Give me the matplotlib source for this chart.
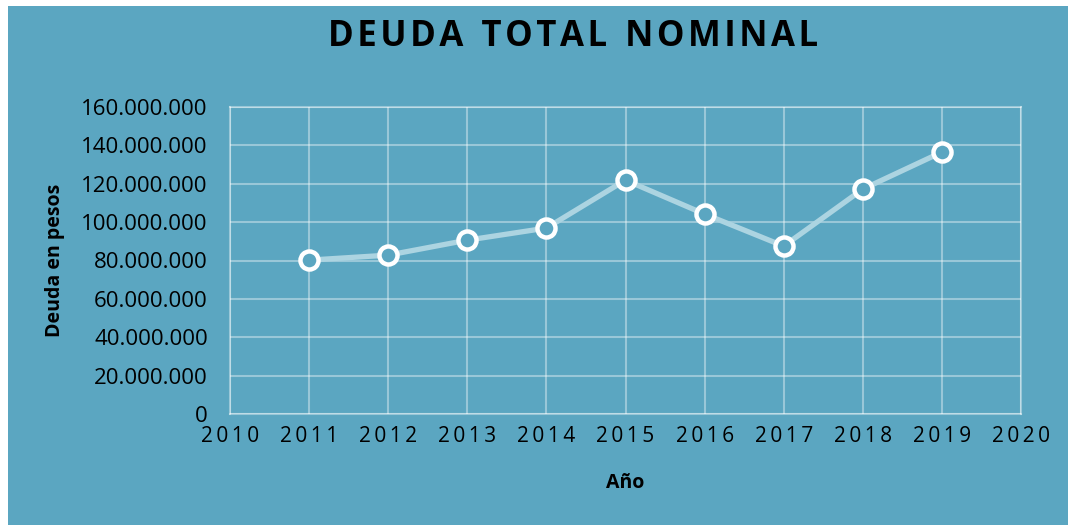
import matplotlib.pyplot as plt
import matplotlib.ticker as mticker
from matplotlib.patches import Rectangle

# datos
anios = [2011, 2012, 2013, 2014, 2015, 2016, 2017, 2018, 2019]
deuda = [80200000, 82800000, 90600000, 96900000, 121900000,
         104200000, 87500000, 117200000, 136500000]
x_ticks = list(range(2010, 2021))
y_ticks = list(range(0, 160000001, 20000000))
titulo = 'DEUDA TOTAL NOMINAL'

fondo = '#5ba6c1'
plt.rcParams['font.family'] = ['Open Sans', 'DejaVu Sans']

fig = plt.figure(figsize=(10.68, 5.25), dpi=100, facecolor='white')
fig.patches.append(Rectangle((8 / 1068, 0), 1, 1 - 6 / 525, transform=fig.transFigure,
                             facecolor=fondo, edgecolor='none', zorder=-1))

ax = fig.add_axes([230 / 1068, 111 / 525, 791 / 1068, 307 / 525])
ax.set_facecolor(fondo)

ax.plot(anios, deuda, color='#acd4e1', lw=3.8, marker='o', markersize=13,
        markerfacecolor=fondo, markeredgecolor='white', markeredgewidth=3.2, zorder=3)

ax.set_xlim(2010, 2020)
ax.set_ylim(0, 160000000)
ax.set_xticks(x_ticks)
ax.set_yticks(y_ticks)
ax.set_xticklabels(['\u2009'.join(str(t)) for t in x_ticks], fontsize=15)
ax.yaxis.set_major_formatter(mticker.FuncFormatter(lambda v, p: f'{int(v):,}'.replace(',', '.')))
ax.tick_params(axis='y', labelsize=16, length=0, pad=16)
ax.tick_params(axis='x', length=0, pad=9)
ax.grid(True, color='white', alpha=0.38, lw=1.5)
for s in ax.spines.values():
    s.set_color('white')
    s.set_alpha(0.38)
    s.set_linewidth(1.5)

ax.set_xlabel('Año', fontsize=14, fontweight='bold', labelpad=18)
ax.set_ylabel('Deuda en pesos', fontsize=14, fontweight='bold', labelpad=12)
fig.text(0.537, 0.93, '  '.join('\u200a'.join(w) for w in titulo.split()), ha='center',
         va='center', fontsize=25, fontweight='bold')

fig.savefig('out.png', dpi=100, facecolor=fig.get_facecolor())
